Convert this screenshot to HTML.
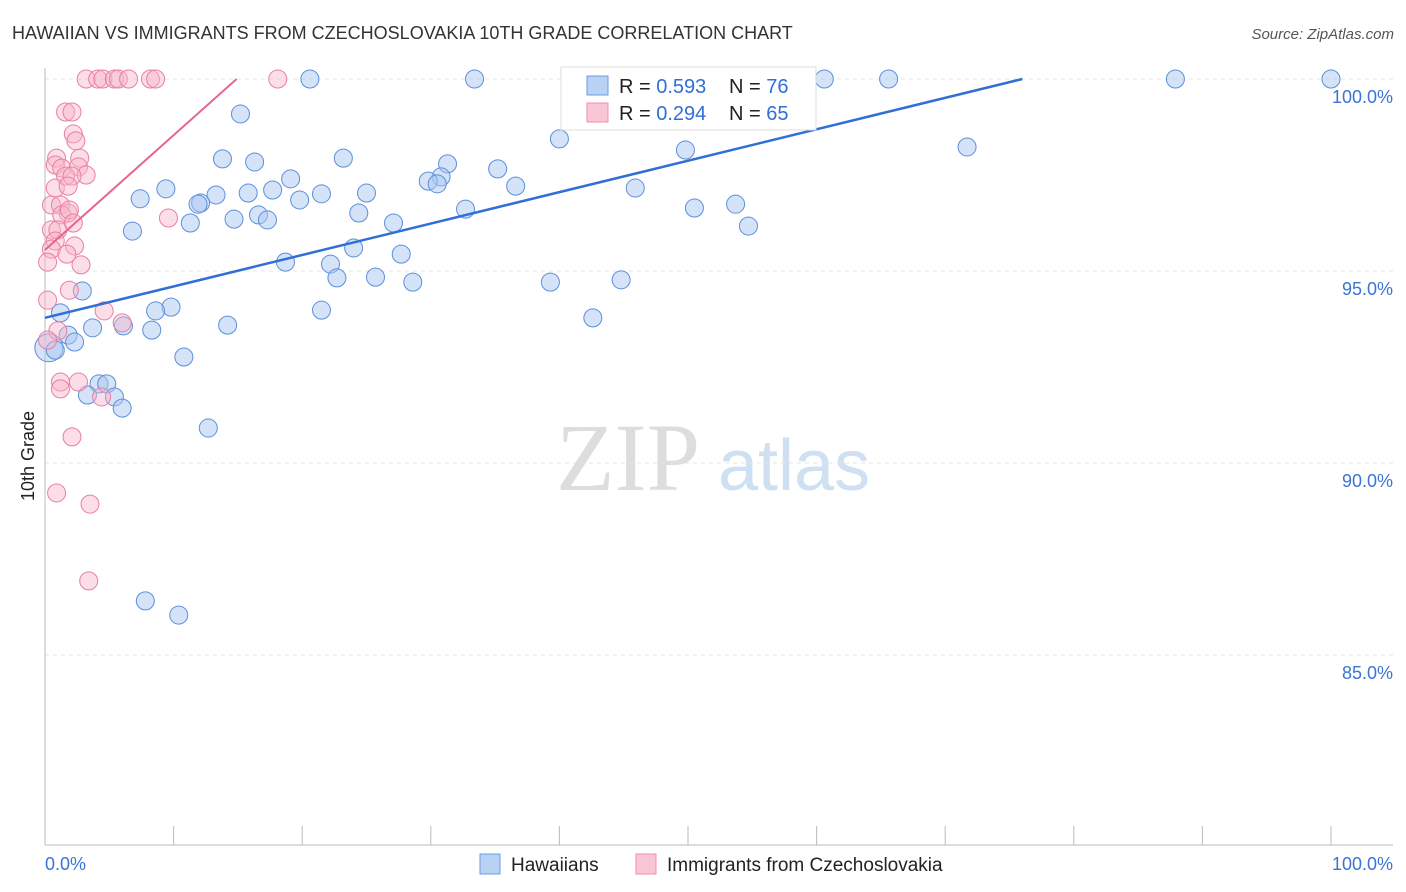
<!DOCTYPE html>
<html><head><meta charset="utf-8"><style>
body{margin:0;background:#fff;font-family:"Liberation Sans",sans-serif;}
#c{position:relative;width:1406px;height:892px;overflow:hidden}
</style></head><body>
<div id="c">
<svg id="s" width="1406" height="892">
<text x="12" y="39" font-size="18" fill="#333">HAWAIIAN VS IMMIGRANTS FROM CZECHOSLOVAKIA 10TH GRADE CORRELATION CHART</text>
<text x="1394" y="39" font-size="15" fill="#555" font-style="italic" text-anchor="end">Source: ZipAtlas.com</text>
<text x="34" y="456" font-size="18" fill="#222" transform="rotate(-90 34 456)" text-anchor="middle">10th Grade</text>
<text x="556" y="490" font-size="96" fill="#ddd" font-family="Liberation Serif,serif">ZIP</text>
<text x="718" y="490" font-size="72" fill="#cfe0f3">atlas</text>
<g id="grid"></g><g id="marks"></g>
<rect x="561" y="67" width="255" height="63" fill="#fff" fill-opacity="0.9" stroke="#ddd"/>
<rect x="587" y="76" width="21" height="19" fill="#b8d2f3" stroke="#6a9be0"/>
<rect x="587" y="103" width="21" height="19" fill="#fac6d5" stroke="#ef8fac"/>
<text x="619" y="93" font-size="20" fill="#222">R = <tspan fill="#2f6fd6">0.593</tspan></text>
<text x="729" y="93" font-size="20" fill="#222">N = <tspan fill="#2f6fd6">76</tspan></text>
<text x="619" y="120" font-size="20" fill="#222">R = <tspan fill="#2f6fd6">0.294</tspan></text>
<text x="729" y="120" font-size="20" fill="#222">N = <tspan fill="#2f6fd6">65</tspan></text>
<rect x="480" y="854" width="20" height="20" fill="#b8d2f3" stroke="#6a9be0"/>
<text x="511" y="871" font-size="19" fill="#222">Hawaiians</text>
<rect x="636" y="854" width="20" height="20" fill="#fac6d5" stroke="#ef8fac"/>
<text x="667" y="871" font-size="19" fill="#222">Immigrants from Czechoslovakia</text>
<text x="45" y="870" font-size="18" fill="#3a74d6">0.0%</text>
<text x="1393" y="870" font-size="18" fill="#3a74d6" text-anchor="end">100.0%</text>
</svg></div>
<script>
const yTicks=[100,95,90,85];
const yTickLabels=["100.0%","95.0%","90.0%","85.0%"];
const blueX=[20.6,33.4,60.6,65.6,87.9,100,15.2,40.0,13.8,16.3,23.2,49.8,71.7,31.3,35.2,30.8,29.8,30.5,19.1,36.6,9.4,15.8,17.7,21.5,25.0,13.3,45.9,7.4,19.8,12.1,11.9,32.7,50.5,53.7,24.4,16.6,14.7,17.3,27.1,11.3,6.8,54.7,24.0,27.7,18.7,22.2,22.7,25.7,28.6,39.3,44.8,2.9,21.5,42.6,9.8,8.6,1.2,14.2,6.1,3.7,8.3,1.8,2.3,0.8,10.8,4.2,4.8,3.3,5.4,6.0,12.7,7.8,10.4];
const blueY=[100,100,100,100,100,100,99.09,98.44,97.92,97.84,97.94,98.15,98.23,97.79,97.66,97.45,97.34,97.27,97.40,97.21,97.14,97.03,97.11,97.01,97.03,96.98,97.16,96.88,96.85,96.77,96.74,96.61,96.64,96.74,96.51,96.46,96.35,96.33,96.25,96.25,96.04,96.17,95.60,95.44,95.23,95.18,94.82,94.84,94.71,94.71,94.77,94.48,93.98,93.78,94.06,93.96,93.91,93.59,93.57,93.52,93.46,93.33,93.15,92.94,92.76,92.06,92.06,91.77,91.72,91.43,90.91,86.41,86.04];
const bigBlueX=[0.3];
const bigBlueY=[93.0];
const pinkX=[3.2,4.1,4.5,5.4,5.7,6.5,8.2,8.6,18.1,1.6,2.1,2.2,2.4,0.9,2.7,0.8,1.3,2.6,1.6,3.2,2.1,0.8,1.8,0.5,1.2,1.8,1.3,1.9,9.6,0.5,2.2,1.0,0.8,2.3,0.5,1.7,0.2,2.8,1.9,0.2,4.6,6.0,1.0,0.2,1.2,2.6,1.2,4.4,2.1,0.9,3.5,3.4];
const pinkY=[100,100,100,100,100,100,100,100,100,99.14,99.14,98.57,98.39,97.94,97.94,97.76,97.68,97.71,97.47,97.5,97.47,97.16,97.21,96.72,96.72,96.51,96.46,96.59,96.38,96.07,96.25,96.07,95.78,95.65,95.57,95.44,95.23,95.16,94.50,94.24,93.96,93.65,93.44,93.2,92.11,92.11,91.93,91.72,90.68,89.22,88.93,86.93];
const blueTrend=[0,93.78,76,100];
const pinkTrend=[0,95.55,14.9,100];
const X=v=>45+v*12.86, Y=v=>79+(100-v)*38.4;
const NS="http://www.w3.org/2000/svg";
const grid=document.getElementById('grid'), marks=document.getElementById('marks');
function mk(tag,attrs,parent){const e=document.createElementNS(NS,tag);for(const k in attrs)e.setAttribute(k,attrs[k]);parent.appendChild(e);return e;}
yTicks.forEach((t,i)=>{
 const l=mk('line',{x1:45,x2:1393,y1:Y(t),y2:Y(t),stroke:'#e4e4e4','stroke-dasharray':'4 4'},grid);
 
 
 const tx=mk('text',{x:1393,y:Y(t)+24,'font-size':18,fill:'#3a74d6','text-anchor':'end'},grid);tx.textContent=yTickLabels[i];
 
 
});
const ax=mk('line',{x1:45,x2:45,y1:68,y2:845,stroke:'#bbb'},grid);


const bx=mk('line',{x1:45,x2:1393,y1:845,y2:845,stroke:'#bbb'},grid);


for(let i=0;i<=10;i++){const t=mk('line',{x1:X(i*10),x2:X(i*10),y1:826,y2:845,stroke:'#bbb'},grid);
 
 }
bigBlueX.forEach((v,i)=>{const c=mk('circle',{cx:X(v),cy:Y(bigBlueY[i]),r:14,fill:'#a9c8f0','fill-opacity':0.5,stroke:'#5b8fdc','stroke-width':1},marks);
 
 });
blueX.forEach((v,i)=>{const c=mk('circle',{cx:X(v),cy:Y(blueY[i]),r:9,fill:'#a9c8f0','fill-opacity':0.5,stroke:'#5b8fdc','stroke-width':1},marks);
 
 });
pinkX.forEach((v,i)=>{const c=mk('circle',{cx:X(v),cy:Y(pinkY[i]),r:9,fill:'#f7b6c9','fill-opacity':0.45,stroke:'#ea7fa0','stroke-width':1},marks);
 
 });
const bt=mk('line',{x1:X(blueTrend[0]),y1:Y(blueTrend[1]),x2:X(blueTrend[2]),y2:Y(blueTrend[3]),stroke:'#2f6fd6','stroke-width':2.5},marks);


const pt=mk('line',{x1:X(pinkTrend[0]),y1:Y(pinkTrend[1]),x2:X(pinkTrend[2]),y2:Y(pinkTrend[3]),stroke:'#e8668e','stroke-width':2},marks);


</script>
</body></html>
